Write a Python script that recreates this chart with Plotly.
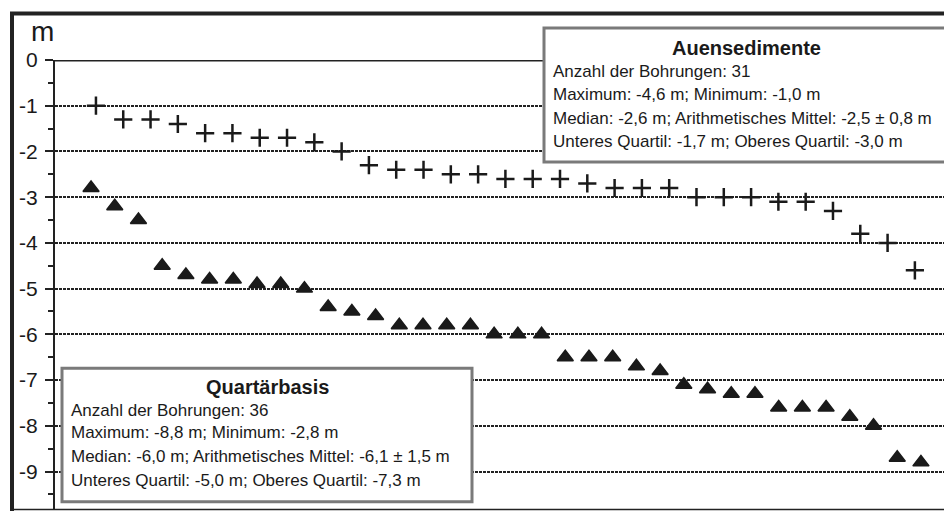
import plotly.graph_objects as go

# ---------------- data ----------------
auen_depth = [-1.0, -1.3, -1.3, -1.4, -1.6, -1.6, -1.7, -1.7, -1.8, -2.0,
              -2.3, -2.4, -2.4, -2.5, -2.5, -2.6, -2.6, -2.6, -2.7, -2.8,
              -2.8, -2.8, -3.0, -3.0, -3.0, -3.1, -3.1, -3.3, -3.8, -4.0,
              -4.6]
quartaer_depth = [-2.8, -3.2, -3.5, -4.5, -4.7, -4.8, -4.8, -4.9, -4.9, -5.0,
                  -5.4, -5.5, -5.6, -5.8, -5.8, -5.8, -5.8, -6.0, -6.0, -6.0,
                  -6.5, -6.5, -6.5, -6.7, -6.8, -7.1, -7.2, -7.3, -7.3, -7.6,
                  -7.6, -7.6, -7.8, -8.0, -8.7, -8.8]
auen_nr = list(range(1, len(auen_depth) + 1))
quartaer_nr = list(range(1, len(quartaer_depth) + 1))

y_tickvals = [0, -1, -2, -3, -4, -5, -6, -7, -8, -9]
y_ticktext = ["0", "-1", "-2", "-3", "-4", "-5", "-6", "-7", "-8", "-9"]
y_minorvals = [-0.5, -1.5, -2.5, -3.5, -4.5, -5.5, -6.5, -7.5, -8.5, -9.5]
y_unit = "m"

auen_title = "Auensedimente"
auen_lines = ["Anzahl der Bohrungen: 31",
              "Maximum: -4,6 m; Minimum: -1,0 m",
              "Median: -2,6 m; Arithmetisches Mittel: -2,5 ± 0,8 m",
              "Unteres Quartil: -1,7 m; Oberes Quartil: -3,0 m"]
quartaer_title = "Quartärbasis"
quartaer_lines = ["Anzahl der Bohrungen: 36",
                  "Maximum: -8,8 m; Minimum: -2,8 m",
                  "Median: -6,0 m; Arithmetisches Mittel: -6,1 ± 1,5 m",
                  "Unteres Quartil: -5,0 m; Oberes Quartil: -7,3 m"]

# ---------------- geometry ----------------
# the page body has an 8px margin, so the figure starts at page (8, 8)
OFF = 8
W, H = 952 - OFF, 511 - OFF
ML, MR, MT, MB = 55 - OFF, 0, 60 - OFF, 2
PW, PH = W - ML - MR, H - MT - MB
FONT = "Liberation Sans, Arial, Helvetica, sans-serif"
INK = "#1a1a1a"


def px(x):
    """page x pixel -> paper coordinate"""
    return (x - OFF - ML) / PW


def py(y):
    """page y pixel -> paper coordinate"""
    return (H - MB - (y - OFF)) / PH


fig = go.Figure()
fig.add_trace(go.Scatter(
    x=auen_nr, y=auen_depth, mode="markers", name=auen_title,
    marker=dict(symbol="cross-thin", size=13, color=INK,
                line=dict(width=2.5, color=INK)),
    xaxis="x", yaxis="y", cliponaxis=False))
fig.add_trace(go.Scatter(
    x=quartaer_nr, y=quartaer_depth, mode="markers", name=quartaer_title,
    marker=dict(symbol="triangle-up", size=14, color=INK,
                line=dict(width=1.5, color=INK)),
    xaxis="x2", yaxis="y", cliponaxis=False))

shapes = []
# outer frame
shapes.append(dict(type="rect", xref="paper", yref="paper",
                   x0=px(12), x1=px(1000), y0=py(560), y1=py(13.5),
                   line=dict(color="#222222", width=4), layer="above"))
# bottom line
shapes.append(dict(type="line", xref="paper", yref="paper",
                   x0=px(10), x1=1.0, y0=py(509.5), y1=py(509.5),
                   line=dict(color="#222222", width=1.5), layer="above"))
# solid zero line
shapes.append(dict(type="line", xref="paper", yref="y",
                   x0=0, x1=1, y0=0, y1=0,
                   line=dict(color="#222222", width=3), layer="above"))
# info boxes
for (x0, x1, y0, y1) in [(544, 948, 28, 162), (62, 472, 368.3, 501.7)]:
    shapes.append(dict(type="rect", xref="paper", yref="paper",
                       x0=px(x0), x1=px(x1), y0=py(y1), y1=py(y0),
                       fillcolor="white",
                       line=dict(color="#7a7a7a", width=3), layer="above"))

annotations = []
annotations.append(dict(text=y_unit, xref="paper", yref="paper",
                        x=px(42.5), y=py(31), xanchor="center", yanchor="middle",
                        showarrow=False, font=dict(family=FONT, size=28, color=INK)))


def add_box_text(title, lines, title_cx, title_cy, left_x, line_ys):
    annotations.append(dict(text="<b>" + title + "</b>", xref="paper", yref="paper",
                            x=px(title_cx), y=py(title_cy), xanchor="center",
                            yanchor="middle", showarrow=False, borderpad=0,
                            font=dict(family=FONT, size=20, color=INK)))
    for t, yy in zip(lines, line_ys):
        annotations.append(dict(text=t, xref="paper", yref="paper",
                                x=px(left_x), y=py(yy), xanchor="left",
                                yanchor="middle", showarrow=False, borderpad=0,
                                font=dict(family=FONT, size=17, color=INK)))


add_box_text(auen_title, auen_lines, 746, 47.7, 552, [71, 94.3, 118.3, 141.7])
add_box_text(quartaer_title, quartaer_lines, 267, 386.7, 70, [410, 432.7, 456.7, 480])

fig.update_layout(
    width=W, height=H,
    margin=dict(l=ML, r=MR, t=MT, b=MB, pad=0),
    paper_bgcolor="white", plot_bgcolor="white",
    showlegend=False,
    font=dict(family=FONT, color=INK),
    xaxis=dict(range=[-0.5, 32.36], visible=False, fixedrange=True),
    xaxis2=dict(range=[-0.52, 37.31], overlaying="x", visible=False, fixedrange=True),
    yaxis=dict(range=[-9.82, 0], tickmode="array", tickvals=y_tickvals,
               ticktext=y_ticktext, ticks="outside", ticklen=8, tickwidth=2,
               tickcolor="#222222", showline=True, linewidth=2, linecolor="#222222",
               showgrid=True, gridcolor="#222222", gridwidth=1.5, griddash="3px,1px",
               zeroline=False, tickfont=dict(family=FONT, size=21, color=INK),
               ticklabelstandoff=3,
               minor=dict(tickmode="array", tickvals=y_minorvals, ticks="outside",
                          ticklen=5, tickwidth=2, tickcolor="#222222", showgrid=False)),
    shapes=shapes,
    annotations=annotations,
)

fig.write_html("out.html")
